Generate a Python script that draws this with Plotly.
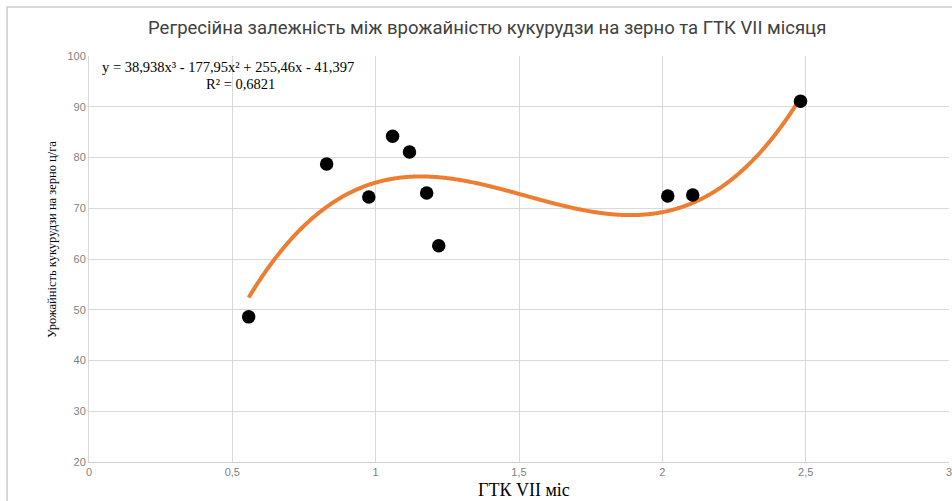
import numpy as np
import plotly.graph_objects as go

# Data
gtk = [0.557, 0.829, 0.976, 1.059, 1.118, 1.178, 1.22, 2.019, 2.106, 2.482]
yield_cw = [48.6, 78.7, 72.2, 84.2, 81.1, 73.0, 62.6, 72.4, 72.6, 91.1]
# Polynomial trend coefficients (shown on chart), highest power first
trend_coefs = [38.938, -177.95, 255.46, -41.397]
x_ticks = [0, 0.5, 1, 1.5, 2, 2.5, 3]
x_tick_labels = ["0", "0,5", "1", "1,5", "2", "2,5", "3"]
y_ticks = [20, 30, 40, 50, 60, 70, 80, 90, 100]

title_text = "Регресійна залежність між врожайністю кукурудзи на зерно та ГТК VII місяця"
x_title = "ГТК VII міс"
y_title = "Урожайність кукурудзи на зерно ц/га"
eq_line1 = "y = 38,938x³ - 177,95x² + 255,46x - 41,397"
eq_line2 = "R² = 0,6821"

xs = np.linspace(min(gtk), max(gtk), 400)
ys = np.polyval(trend_coefs, xs)

fig = go.Figure()
fig.add_trace(go.Scatter(x=xs, y=ys, mode="lines",
                         line=dict(color="#ED7D31", width=4, shape="spline"),
                         hoverinfo="skip", showlegend=False))
fig.add_trace(go.Scatter(x=gtk, y=yield_cw, mode="markers",
                         marker=dict(color="black", size=13.5), showlegend=False))

tick_font = dict(family="Liberation Sans Narrow, Liberation Sans, sans-serif", size=11, color="#7F7F7F")

fig.update_layout(
    width=952, height=501,
    margin=dict(l=89, r=3, t=56, b=39, autoexpand=False),
    paper_bgcolor="white", plot_bgcolor="white",
    title=dict(text=title_text, x=0.463, xref="paper", xanchor="center",
               y=1 - 28 / 501, yref="container", yanchor="middle",
               font=dict(family="Liberation Sans Narrow, Roboto, sans-serif", size=18.5, color="#404040")),
    xaxis=dict(range=[0, 3], tickvals=x_ticks, ticktext=x_tick_labels,
               showgrid=True, gridcolor="#D9D9D9", gridwidth=1, zeroline=False,
               showline=True, linecolor="#D0D0D0", ticks="", automargin=False,
               ticklabeloverflow="allow", tickfont=tick_font),
    yaxis=dict(range=[20, 100], tickvals=y_ticks,
               showgrid=True, gridcolor="#D9D9D9", gridwidth=1, zeroline=False,
               showline=True, linecolor="#D9D9D9", ticks="", automargin=False,
               ticklabeloverflow="allow", tickfont=tick_font),
)

# axis titles
fig.add_annotation(x=(524 - 89) / 860, y=-0.068, xref="paper", yref="paper",
                   xanchor="center", yanchor="middle", text=x_title, showarrow=False,
                   font=dict(family="Liberation Serif, serif", size=18, color="#000000"))
fig.add_annotation(x=(52 - 89) / 860, y=(462 - 240) / 406, xref="paper", yref="paper",
                   xanchor="center", yanchor="middle", text=y_title, showarrow=False,
                   textangle=-90,
                   font=dict(family="Liberation Serif, serif", size=12.5, color="#000000"))

# trend equation
fig.add_annotation(x=0.038, y=97.8, xref="x", yref="y", xanchor="left", yanchor="middle",
                   text=eq_line1, showarrow=False,
                   font=dict(family="Liberation Serif, serif", size=14.5, color="#000000"))
fig.add_annotation(x=0.527, y=94.4, xref="x", yref="y", xanchor="center", yanchor="middle",
                   text=eq_line2, showarrow=False,
                   font=dict(family="Liberation Serif, serif", size=14.5, color="#000000"))

# outer chart border
fig.add_shape(type="rect", xref="paper", yref="paper",
              x0=-0.0953, x1=1.05, y0=-0.3, y1=1.1207,
              line=dict(color="#CCCCCC", width=1.5), layer="above")

fig.write_html("out.html", config={"displayModeBar": False},
               post_script="document.body.style.margin='0';document.body.style.overflow='hidden';")
